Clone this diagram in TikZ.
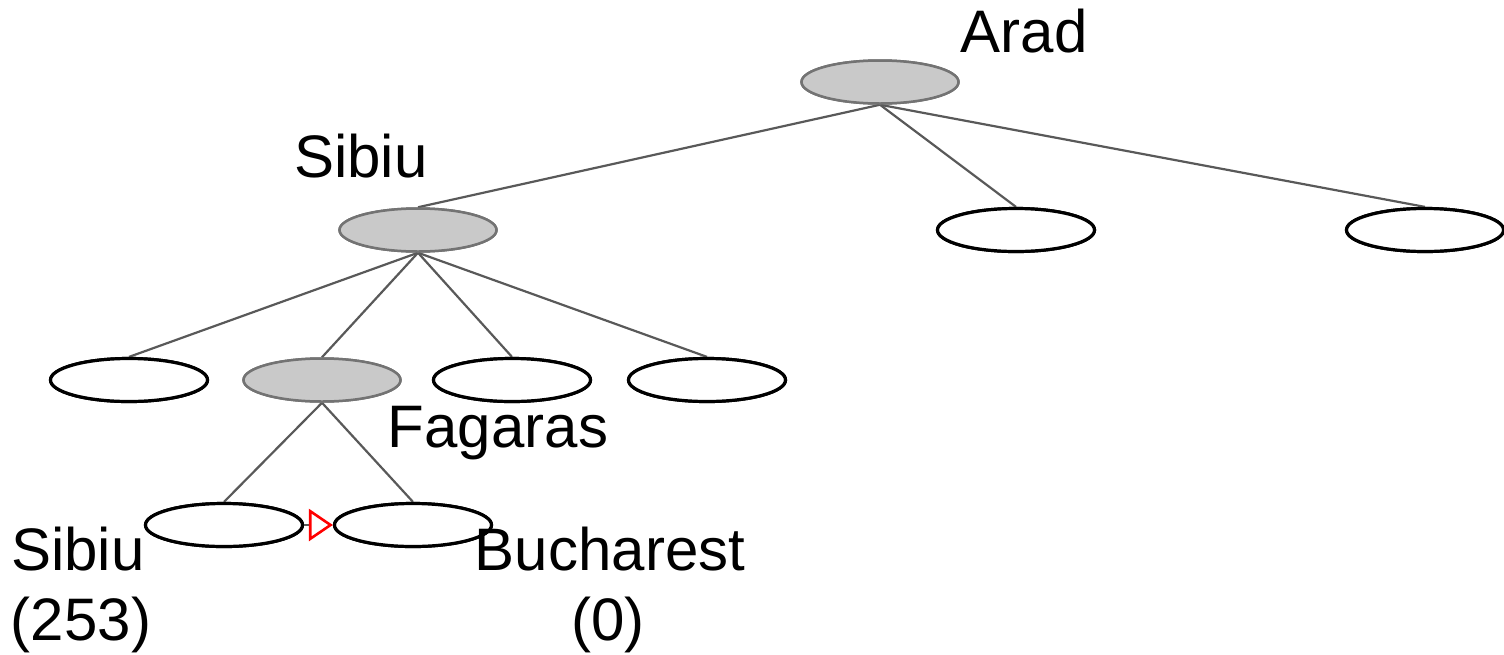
\documentclass[tikz,border=0pt]{standalone}
\usepackage{fontspec}
\setmainfont{Liberation Sans}
\usetikzlibrary{shapes.geometric,arrows.meta}
\begin{document}
\begin{tikzpicture}[x=1pt,y=-1pt,
  treenode/.style={ellipse,draw=black,line width=3.2pt,fill=white,
    minimum width=157pt,minimum height=43pt,inner sep=0pt},
  expanded/.style={treenode,draw=black!55,line width=2.5pt,fill=black!21},
  branch/.style={draw=black!65,line width=2.2pt},
  lbl/.style={anchor=base,inner sep=0pt,font=\fontsize{60}{72}\selectfont}]
\useasboundingbox (0,0) rectangle (1504,654);

% search tree nodes
\node[expanded] (arad) at (880,82) {};
\node[expanded] (sibiu) at (418,230) {};
\node[treenode] (t) at (1016,230) {};
\node[treenode] (z) at (1425,230) {};
\node[treenode] (a2) at (129,380) {};
\node[expanded] (fag) at (322,380) {};
\node[treenode] (o) at (512,380) {};
\node[treenode] (rv) at (707,380) {};
\node[treenode] (s2) at (224,525) {};
\node[treenode] (buc) at (413,525) {};

% tree branches
\draw[branch] (arad.south) -- (sibiu.north);
\draw[branch] (arad.south) -- (t.north);
\draw[branch] (arad.south) -- (z.north);
\draw[branch] (sibiu.south) -- (a2.north);
\draw[branch] (sibiu.south) -- (fag.north);
\draw[branch] (sibiu.south) -- (o.north);
\draw[branch] (sibiu.south) -- (rv.north);
\draw[branch] (fag.south) -- (s2.north);
\draw[branch] (fag.south) -- (buc.north);

% redraw nodes on top of the branches
\node[expanded] at (arad) {};
\node[expanded] at (sibiu) {};
\node[treenode] at (t) {};
\node[treenode] at (z) {};
\node[treenode] at (a2) {};
\node[expanded] at (fag) {};
\node[treenode] at (o) {};
\node[treenode] at (rv) {};
\node[treenode] at (s2) {};
\node[treenode] at (buc) {};

% pointer between the two leaves
\draw[branch,-{Triangle[open,red,line width=2.6pt,length=24pt,width=32pt]}] (s2.east) -- (buc.west);

% labels
\node[lbl] (larad) at (1024,52) {Arad};
\node[lbl] (lsibiu) at (361,177) {Sibiu};
\node[lbl] (lfag) at (498,447) {Fagaras};
\node[lbl] (ls2) at (78,570) {Sibiu};
\node[lbl] (ls2h) at (81,640) {(253)};
\node[lbl] (lbuc) at (610,570) {Bucharest};
\node[lbl] (lbuch) at (608,640) {(0)};
\end{tikzpicture}
\end{document}
